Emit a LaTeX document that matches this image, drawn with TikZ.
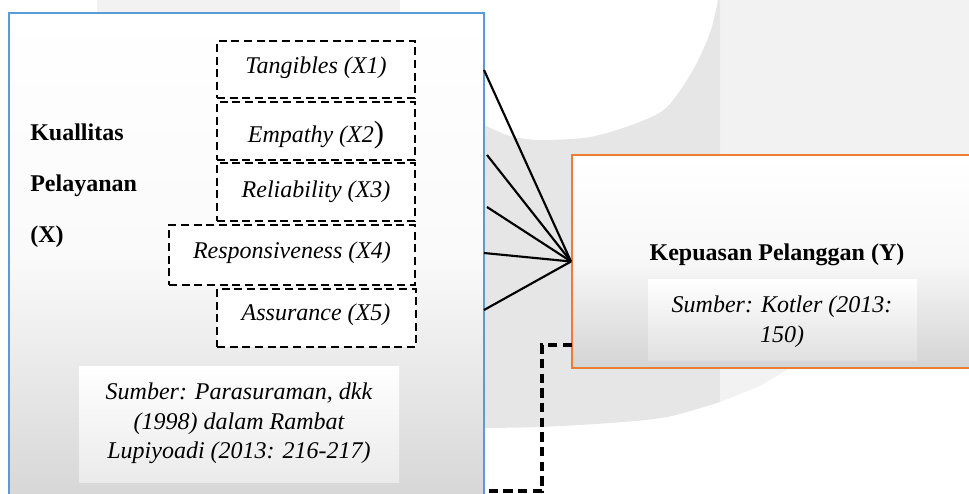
\documentclass[tikz,border=0pt]{standalone}
\usepackage{fontspec}
\setmainfont{Liberation Serif}
\usetikzlibrary{fit}
\definecolor{bluebd}{HTML}{5B9BD5}
\definecolor{orangebd}{HTML}{ED7D31}
\definecolor{wmlight}{HTML}{F2F2F2}
\definecolor{wmdark}{HTML}{E6E6E6}
\begin{document}
\begin{tikzpicture}[x=0.75pt,y=-0.75pt,
  boldtxt/.style={font=\fontsize{18}{22.5}\selectfont\bfseries, inner sep=0pt},
  ittxt/.style={font=\fontsize{18}{22.5}\selectfont\itshape, inner sep=0pt, anchor=base},
  dbox/.style={draw, line width=2pt, dash pattern=on 6pt off 3.5pt, fill=white, inner sep=0pt},
  srcbox/.style={inner sep=0pt, top color=white},
  conn/.style={line width=1.6pt},
  thickdash/.style={line width=2.6pt, dash pattern=on 7pt off 4pt}]
\clip (0,0) rectangle (969,493);
% watermark background
\fill[wmlight] (97,0) rectangle (400,13);
\fill[wmlight] (720,0) rectangle (969,155);
\fill[wmdark] plot[smooth] coordinates {(484,125) (510,136) (540,140) (590,137) (637,123) (667,107) (693,70) (710,33) (718,0)} -- (720,0) -- (720,402) -- plot[smooth] coordinates {(720,402) (667,417) (610,423) (540,427) (484,428)} -- cycle;
\fill[wmlight] (720,368) -- (790,368) -- (760,386) -- (720,402) -- cycle;
% left box
\node[fit={(9,13) (484,500)}, inner sep=0pt, draw=bluebd, line width=1.5pt, top color=white, bottom color=black!16, middle color=black!2] (X) {};
\node[boldtxt, anchor=base west] (k1) at (30,140) {Kuallitas};
\node[boldtxt, anchor=base west] (k2) at (30,191) {Pelayanan};
\node[boldtxt, anchor=base west] (k3) at (30,242) {(X)};
\node[dbox, fit={(217,41) (415,98)}] (x1) {};
\node[dbox, fit={(217,102) (415,160)}] (x2) {};
\node[dbox, fit={(217,163) (415,221)}] (x3) {};
\node[dbox, fit={(169,225) (415,285)}] (x4) {};
\node[dbox, fit={(217,289) (416,347)}] (x5) {};
\node[ittxt] (t1) at (316,73) {Tangibles (X1)};
\node[ittxt] (t2) at (316,142) {Empathy (X2{\upshape\fontsize{23}{23}\selectfont)}};
\node[ittxt] (t3) at (316,197) {Reliability (X3)};
\node[ittxt] (t4) at (292,258) {Responsiveness (X4)};
\node[ittxt] (t5) at (316,320) {Assurance (X5)};
\node[srcbox, bottom color=black!8, fit={(79,366) (399,482)}] (xsrc) {};
\node[ittxt] (xs1) at (239,399) {Sumber: Parasuraman, dkk};
\node[ittxt] (xs2) at (239,429) {(1998) dalam Rambat};
\node[ittxt] (xs3) at (239,458) {Lupiyoadi (2013: 216-217)};
% right box
\node[fit={(572,155) (990,368)}, inner sep=0pt, draw=orangebd, line width=1.5pt, top color=white, bottom color=black!17, middle color=black!3] (Y) {};
\node[boldtxt, anchor=base] (ytitle) at (777,260) {Kepuasan Pelanggan (Y)};
\node[srcbox, bottom color=black!12, fit={(648,279) (917,360)}] (ysrc) {};
\node[ittxt] (ys1) at (782,312) {Sumber: Kotler (2013:};
\node[ittxt] (ys2) at (782,342) {150)};
% connectors
\coordinate (s1) at (484,70);
\coordinate (s2) at (487,155);
\coordinate (s3) at (487,207);
\coordinate (s4) at (484,253);
\coordinate (s5) at (484,310);
\foreach \s in {s1,s2,s3,s4,s5} \draw[conn] (\s) -- (Y.west);
\coordinate (d1) at (572,345);
\coordinate (d2) at (484,491);
\draw[thickdash] (d1) -- (542,345) -- (542,491) -- (d2);
\end{tikzpicture}
\end{document}
